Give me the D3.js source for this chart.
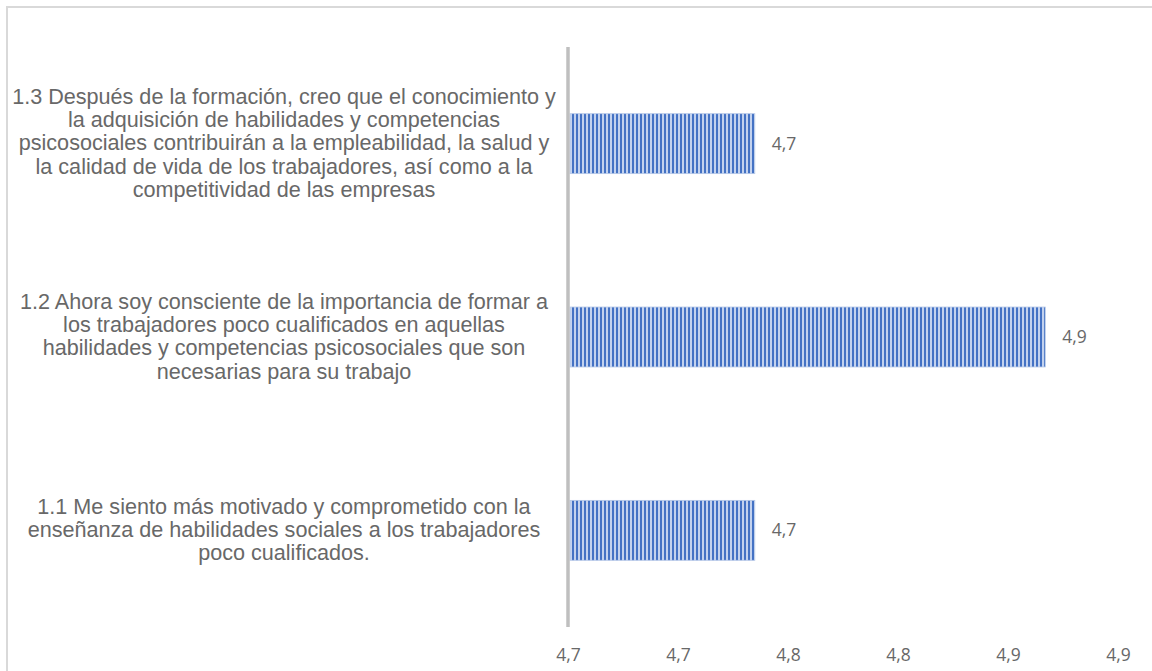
<!DOCTYPE html>
<html>
<head>
<meta charset="utf-8">
<script src="https://cdn.jsdelivr.net/npm/d3@7"></script>
<style>
  html, body { margin: 0; padding: 0; background: #fff; }
  svg { display: block; }
</style>
</head>
<body>
<svg id="chart" width="1152" height="671"></svg>
<script>
// ---- data ----
const categories = ["1.3", "1.2", "1.1"];
const categoryLines = [
  ["1.3 Después de la formación, creo que el conocimiento y",
   "la adquisición de habilidades y competencias",
   "psicosociales contribuirán a la empleabilidad, la salud y",
   "la calidad de vida de los trabajadores, así como a la",
   "competitividad de las empresas"],
  ["1.2 Ahora soy consciente de la importancia de formar a",
   "los trabajadores poco cualificados en aquellas",
   "habilidades y competencias psicosociales que son",
   "necesarias para su trabajo"],
  ["1.1 Me siento más motivado y comprometido con la",
   "enseñanza de habilidades sociales a los trabajadores",
   "poco cualificados."]
];
const values = [4.734, 4.866, 4.734];
const tickValues = [4.65, 4.70, 4.75, 4.80, 4.85, 4.90];
const tickLabels = ["4,7", "4,7", "4,8", "4,8", "4,9", "4,9"];

// ---- layout ----
const svg = d3.select("#chart");
const plotLeft = 570, plotRight = 1120, plotTop = 47, plotBottom = 627;

svg.append("rect")
  .attr("x", 7).attr("y", 7).attr("width", 1160).attr("height", 680)
  .attr("fill", "none").attr("stroke", "#d9d9d9").attr("stroke-width", 2);

const x = d3.scaleLinear().domain([4.65, 4.90]).range([plotLeft, plotRight]);
const y = d3.scaleBand().domain(categories).range([plotTop, plotBottom])
  .paddingInner(0.69).paddingOuter(0.345);

// stripe pattern
const defs = svg.append("defs");
const pat = defs.append("pattern").attr("id", "stripes")
  .attr("patternUnits", "userSpaceOnUse").attr("width", 4).attr("height", 4);
pat.append("rect").attr("width", 4).attr("height", 4).attr("fill", "#c3d2ee");
pat.append("rect").attr("width", 2).attr("height", 4).attr("fill", "#4472c4");

const data = categories.map((c, i) => ({ c, v: values[i], lines: categoryLines[i] }));

// bars
svg.append("g").selectAll("rect").data(data).join("rect")
  .attr("x", x(4.65))
  .attr("y", d => y(d.c))
  .attr("width", d => x(d.v) - x(4.65))
  .attr("height", y.bandwidth())
  .attr("fill", "url(#stripes)")
  .attr("stroke", "#b4c7e7").attr("stroke-width", 0.8);

// vertical axis line
svg.append("line")
  .attr("x1", plotLeft - 2).attr("x2", plotLeft - 2)
  .attr("y1", plotTop).attr("y2", plotBottom)
  .attr("stroke", "#bfbfbf").attr("stroke-width", 3.5);

// category labels
const lh = 23.3;
const lab = svg.append("g").selectAll("text").data(data).join("text")
  .attr("text-anchor", "middle")
  .attr("font-family", "'Liberation Sans', Arial, sans-serif")
  .attr("font-size", "21.6px")
  .attr("fill", "#686868");
lab.each(function(d) {
  const cy = y(d.c) + y.bandwidth() / 2;
  const n = d.lines.length;
  d3.select(this).selectAll("tspan").data(d.lines).join("tspan")
    .attr("x", 284)
    .attr("y", (l, i) => cy + (i - (n - 1) / 2) * lh - 1)
    .attr("dy", "0.35em")
    .text(l => l);
});

// value labels
svg.append("g").selectAll("text").data(data).join("text")
  .attr("x", d => x(d.v) + 17)
  .attr("y", d => y(d.c) + y.bandwidth() / 2)
  .attr("dy", "0.35em")
  .attr("font-family", "'Open Sans', sans-serif")
  .attr("font-size", "17.5px")
  .attr("fill", "#686868")
  .text(d => (Math.round(d.v * 10) / 10).toFixed(1).replace(".", ","));

// x axis ticks (labels only)
const xAxis = d3.axisBottom(x).tickValues(tickValues)
  .tickFormat((d, i) => tickLabels[i]).tickSize(0).tickPadding(0);
const gx = svg.append("g").attr("transform", `translate(-2,${655})`).call(xAxis);
gx.select(".domain").remove();
gx.selectAll("text")
  .attr("dy", "0.35em")
  .attr("font-family", "'Open Sans', sans-serif")
  .attr("font-size", "17.5px")
  .attr("fill", "#686868");
</script>
</body>
</html>
